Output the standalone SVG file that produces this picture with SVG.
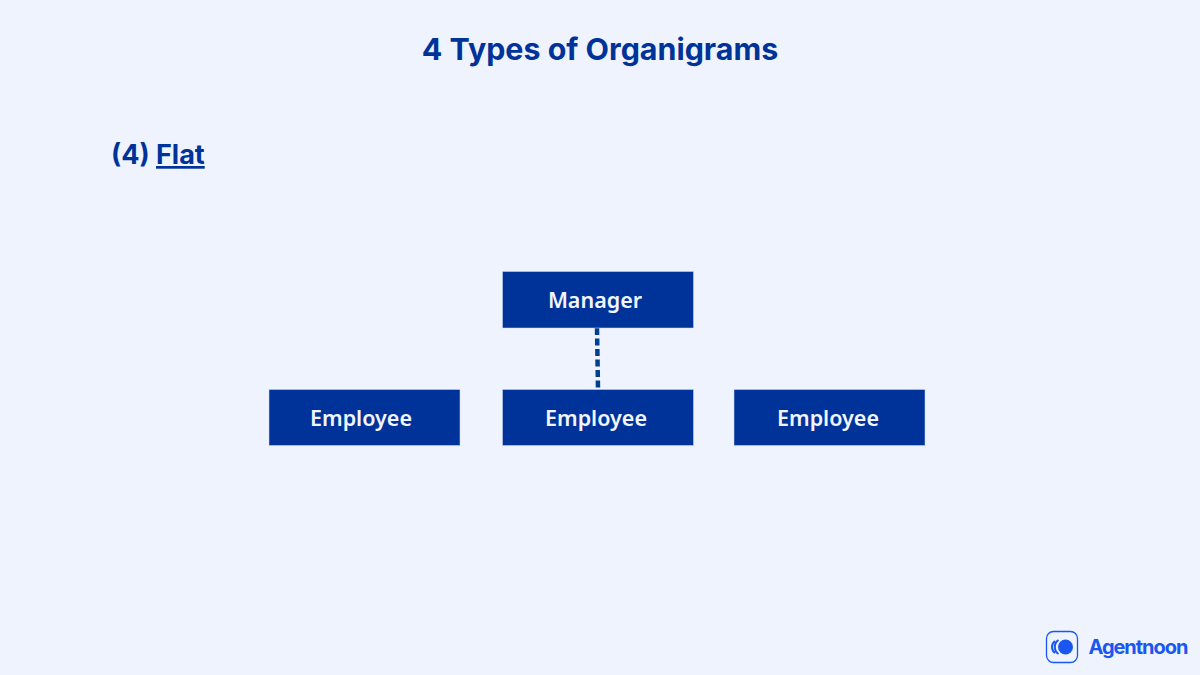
<svg xmlns="http://www.w3.org/2000/svg" width="1200" height="675" viewBox="0 0 1200 675">
<style>
.h{font-family:Inter,"Liberation Sans",sans-serif;font-weight:700;fill:#003399}
.box{fill:#003399;stroke:#cfdcf5;stroke-width:.5}
.lbl{font-family:"Noto Sans","Open Sans",sans-serif;font-weight:600;font-size:21.500px;fill:#f2f5fd;text-anchor:middle}
</style>
<rect id="background" width="1200" height="675" fill="#eff3fe"/>
<text id="title" class="h" x="600" y="60" font-size="30.400" text-anchor="middle">4 Types of Organigrams</text>
<text id="subtitle" class="h" x="111" y="164" font-size="27">(4) <tspan text-decoration="underline">Flat</tspan></text>
<g id="connectors">
<line x1="597" y1="328" x2="598" y2="389" stroke="#003f8f" stroke-width="4.500" stroke-dasharray="7 3.500"/>
</g>
<g id="manager"><rect class="box" x="502.500" y="271.500" width="191" height="56.500"/><text class="lbl" x="595" y="308">Manager</text></g>
<g id="employee-1"><rect class="box" x="269" y="389.500" width="191" height="56"/><text class="lbl" x="361" y="426">Employee</text></g>
<g id="employee-2"><rect class="box" x="502.500" y="389.500" width="191" height="56"/><text class="lbl" x="596" y="426">Employee</text></g>
<g id="employee-3"><rect class="box" x="734" y="389.500" width="191" height="56"/><text class="lbl" x="828" y="426">Employee</text></g>
<g id="logo">
<rect x="1046.500" y="631.500" width="31" height="31" rx="7" fill="#eff3fe" stroke="#1a56f0" stroke-width="1.300"/>
<path d="M1055 641a7.500 7.500 0 0 0 0 12M1058.500 640a8.500 8.500 0 0 0 0 14" fill="none" stroke="#1a56f0" stroke-width="2"/>
<circle cx="1065.500" cy="647" r="7.500" fill="#1a56f0"/>
<text x="1088.500" y="654" font-family="Inter,'Liberation Sans',sans-serif" font-weight="700" font-size="20" letter-spacing="-1.050" fill="#1a56f0">Agentnoon</text>
</g>
</svg>
